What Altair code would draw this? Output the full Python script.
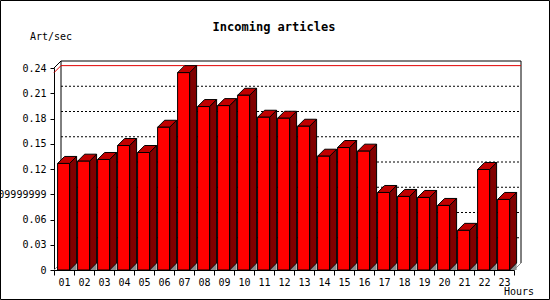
import json
import altair as alt
import pandas as pd

# ---------------- data ----------------
hours = ["01", "02", "03", "04", "05", "06", "07", "08", "09", "10", "11", "12",
         "13", "14", "15", "16", "17", "18", "19", "20", "21", "22", "23"]
art_per_sec = [0.1266, 0.1293, 0.1313, 0.1479, 0.1396, 0.1696, 0.2345, 0.1942,
               0.1953, 0.2076, 0.1815, 0.1803, 0.1708, 0.1352, 0.1455, 0.1412,
               0.0921, 0.0874, 0.0862, 0.0767, 0.0471, 0.1194, 0.0838]
y_ticks = [0, 0.03, 0.06, 0.09, 0.12, 0.15, 0.18, 0.21, 0.24]
y_tick_labels = ["0", "0.03", "0.06", "0.09999999", "0.12", "0.15", "0.18", "0.21", "0.24"]
title_text = "Incoming articles"
y_title = "Art/sec"
x_title = "Hours"

# ---------------- layout ----------------
W, H = 460, 202
PAD_L, PAD_T, PAD_R, PAD_B = 54, 68, 36, 30
N = len(hours)
Y_MAX = y_ticks[-1]
DEPTH = 7                      # 3D depth in pixels
DX = DEPTH * N / W             # depth in x data units
DY = DEPTH * Y_MAX / H         # depth in y data units
OFF, BW = 0.18, 0.6            # bar offset / width inside a slot
FONT = "DejaVu Sans Mono"

xs = alt.Scale(domain=[0, N], nice=False, zero=False)
ys = alt.Scale(domain=[0, Y_MAX], nice=False, zero=False)

x_axis = alt.Axis(values=list(range(N + 1)), title=None, grid=False, tickSize=5,
                  labelExpr=f"datum.value < {N} ? {json.dumps(hours)}[datum.value] : ''",
                  labelOffset=10, labelPadding=2, labelFlush=False, labelOverlap=False,
                  labelFont=FONT, labelFontSize=10, labelColor="black",
                  domainColor="black", tickColor="black", domainWidth=1, tickWidth=1)
y_axis = alt.Axis(values=y_ticks, title=None, grid=False, tickSize=4,
                  labelExpr=f"{json.dumps(y_tick_labels)}[round(datum.value / {y_ticks[1]})]",
                  labelPadding=4, labelFlush=False, labelOverlap=False,
                  labelFont=FONT, labelFontSize=10, labelColor="black",
                  domainColor="black", tickColor="black", domainWidth=1, tickWidth=1)


def X(f):
    return alt.X(f, type="quantitative", scale=xs, axis=x_axis, stack=None)


def Y(f):
    return alt.Y(f, type="quantitative", scale=ys, axis=y_axis, stack=None)


# ---------------- derived tables ----------------
front_rows, top_rows, side_rows, floor_rows = [], [], [], []
for i, (h, v) in enumerate(zip(hours, art_per_sec)):
    xl, xr = i + OFF, i + OFF + BW
    front_rows.append({"id": h, "x1": xl, "x2": xr, "v": v, "base": 0})
    top_rows += [{"id": h, "y": v, "xa": xl, "xb": xr},
                 {"id": h, "y": v + DY, "xa": xl + DX, "xb": xr + DX}]
    side_rows += [{"id": h, "x": xr, "y": v, "y2": 0},
                  {"id": h, "x": xr + DX, "y": v + DY, "y2": DY}]
    floor_rows += [{"id": h, "x": xr, "y": 0, "y2": 0},
                   {"id": h, "x": xr + DX, "y": DY, "y2": 0}]
front_df = pd.DataFrame(front_rows)
top_df = pd.DataFrame(top_rows)
side_df = pd.DataFrame(side_rows)
floor_df = pd.DataFrame(floor_rows)

grid_df = pd.DataFrame({"y": [t + DY for t in y_ticks[1:-1]],
                        "xa": DX, "xb": N + DX})

frame_rows = []
for seg, pts in enumerate([
    [(0, Y_MAX), (DX, Y_MAX + DY), (N + DX, Y_MAX + DY), (N + DX, DY)],
    [(DX, DY), (DX, Y_MAX + DY)],
]):
    for k, (x, y) in enumerate(pts):
        frame_rows.append({"seg": seg, "k": k, "x": x, "y": y})
frame_df = pd.DataFrame(frame_rows)

floor_edge_df = pd.DataFrame([
    {"seg": 0, "k": 0, "x": N, "y": 0}, {"seg": 0, "k": 1, "x": N + DX, "y": DY},
    {"seg": 1, "k": 0, "x": 0, "y": 0}, {"seg": 1, "k": 1, "x": DX, "y": DY},
])

peak = max(art_per_sec)
peak_df = pd.DataFrame([
    {"k": 0, "x": 0, "y": peak},
    {"k": 1, "x": DX, "y": peak + DY},
    {"k": 2, "x": N + DX, "y": peak + DY},
])

# ---------------- layers ----------------
one = pd.DataFrame({"a": [0]})

border = alt.Chart(one).mark_rect(fillOpacity=0, stroke="black", strokeWidth=1).encode(
    x=alt.value(0.5 - PAD_L), x2=alt.value(549.5 - PAD_L),
    y=alt.value(0.5 - PAD_T), y2=alt.value(299.5 - PAD_T))

grid = alt.Chart(grid_df).mark_rule(color="black", strokeWidth=1, strokeDash=[2, 2]).encode(
    x=X("xa:Q"), x2=alt.X2("xb:Q"), y=Y("y:Q"))

frame = alt.Chart(frame_df).mark_line(color="black", strokeWidth=1).encode(
    x=X("x:Q"), y=Y("y:Q"), detail="seg:N", order="k:Q")

floor_edge = alt.Chart(floor_edge_df).mark_line(color="#8c8c8c", strokeWidth=1).encode(
    x=X("x:Q"), y=Y("y:Q"), detail="seg:N", order="k:Q")

peak_line = alt.Chart(peak_df).mark_line(color="#e00000", strokeWidth=1).encode(
    x=X("x:Q"), y=Y("y:Q"), order="k:Q")

floor = alt.Chart(floor_df).mark_area(orient="vertical", color="#8c8c8c").encode(
    x=X("x:Q"), y=Y("y:Q"), y2=alt.Y2("y2:Q"), detail="id:N")

side = alt.Chart(side_df).mark_area(orient="vertical", color="#800000",
                                    stroke="black", strokeWidth=1).encode(
    x=X("x:Q"), y=Y("y:Q"), y2=alt.Y2("y2:Q"), detail="id:N")

top = alt.Chart(top_df).mark_area(orient="horizontal", color="#c00000",
                                  stroke="black", strokeWidth=1).encode(
    y=Y("y:Q"), x=X("xa:Q"), x2=alt.X2("xb:Q"), detail="id:N")

front = alt.Chart(front_df).mark_rect(color="#ff0000", stroke="black", strokeWidth=1).encode(
    x=X("x1:Q"), x2=alt.X2("x2:Q"),
    y=Y("v:Q"), y2=alt.Y2("base:Q"))

title = alt.Chart(pd.DataFrame({"t": [title_text]})).mark_text(
    font=FONT, fontWeight="bold", fontSize=12, align="center", baseline="middle",
    color="black").encode(text="t:N", x=alt.value(274 - PAD_L), y=alt.value(27 - PAD_T))

ytitle = alt.Chart(pd.DataFrame({"t": [y_title]})).mark_text(
    font=FONT, fontSize=10, align="left", baseline="middle",
    color="black").encode(text="t:N", x=alt.value(30 - PAD_L), y=alt.value(37 - PAD_T))

xtitle = alt.Chart(pd.DataFrame({"t": [x_title]})).mark_text(
    font=FONT, fontSize=10, align="right", baseline="middle",
    color="black").encode(text="t:N", x=alt.value(534 - PAD_L), y=alt.value(292 - PAD_T))

chart = alt.layer(
    border, grid, frame, floor_edge, peak_line, floor, side, top, front,
    title, ytitle, xtitle
).properties(
    width=W, height=H,
    padding={"left": PAD_L, "top": PAD_T, "right": PAD_R, "bottom": PAD_B},
    autosize=alt.AutoSizeParams(type="none"),
    background="white",
).configure_view(stroke=None)

chart.save("out.html", embed_options={"renderer": "svg", "actions": False})
